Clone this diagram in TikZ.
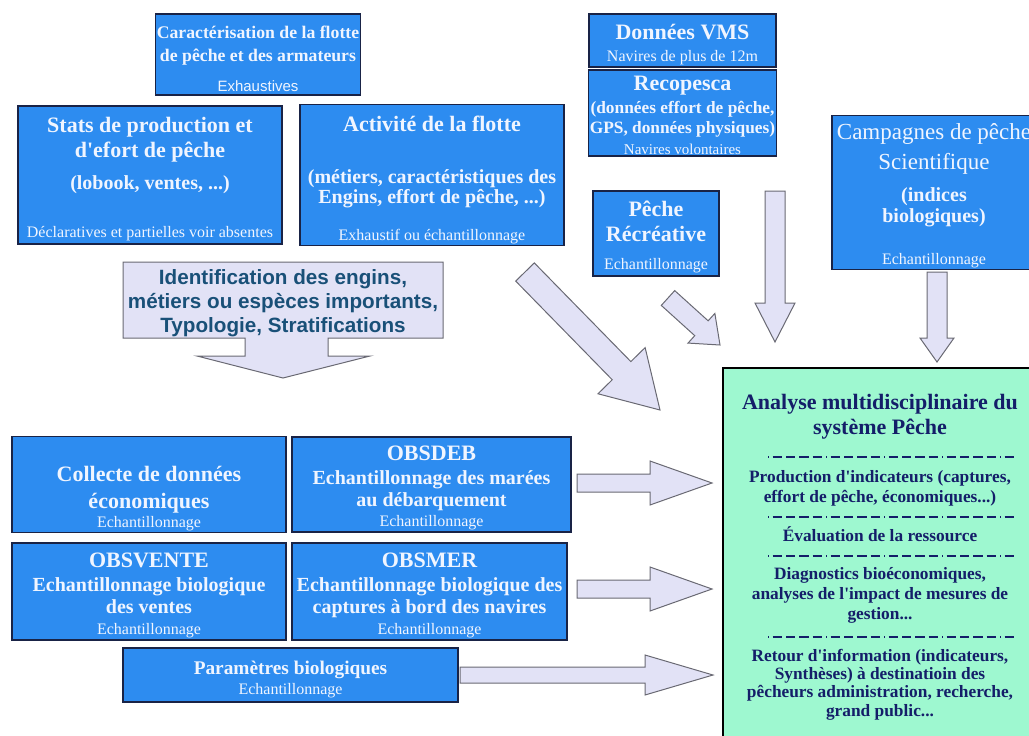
\documentclass[tikz,border=0pt]{standalone}
\usepackage{fontspec}
\defaultfontfeatures[\rmfamily,\sffamily]{}
\setmainfont{Liberation Serif}
\setsansfont{Liberation Sans}
\usetikzlibrary{calc}

\definecolor{bleubloc}{RGB}{45,140,240}
\definecolor{bordbloc}{RGB}{25,35,70}
\definecolor{texteclair}{RGB}{240,245,255}
\definecolor{lavande}{RGB}{226,226,246}
\definecolor{grisfleche}{RGB}{105,105,115}
\definecolor{vertanalyse}{RGB}{158,248,208}
\definecolor{marine}{RGB}{20,30,105}
\definecolor{bleuident}{RGB}{25,80,120}

\tikzset{
  bloc/.style={draw=bordbloc, line width=0.9pt, fill=bleubloc, text=texteclair, align=center, inner sep=1pt},
  fleche/.style={draw=grisfleche, line width=0.75pt, fill=lavande, line join=miter},
  separ/.style={draw=marine, line width=0.8pt, dash pattern={on 1pt off 2.5pt on 7pt off 3pt on 7pt off 3pt on 7pt off 3pt on 7pt off 3pt}},
  txtanalyse/.style={text=marine, align=center, inner sep=0pt},
}

% queue, pointe, demi-largeur, demi-tete, longueur tete
\newcommand{\grossefleche}[5]{%
  \coordinate (basetete) at ($(#2)!#5!(#1)$);
  \draw[fleche] ($(#1)!#3!90:(#2)$) -- ($(basetete)!#3!90:(#2)$) -- ($(basetete)!#4!90:(#2)$) -- (#2)
    -- ($(basetete)!#4!-90:(#2)$) -- ($(basetete)!#3!-90:(#2)$) -- ($(#1)!#3!-90:(#2)$) -- cycle;}

\newcommand{\petitetxt}{\mdseries\fontsize{12}{12}\selectfont}
\newcommand{\hausse}[1]{\rule{0pt}{#1}}

\begin{document}
\begin{tikzpicture}[x=0.75pt,y=0.75pt,yscale=-1,xscale=1]
\useasboundingbox (0,0) rectangle (1029,736);

% sources
\node[bloc, minimum width=150pt, minimum height=60.75pt, font=\fontsize{13.3}{17.25}\selectfont\bfseries] (caract) at (258,54.5)
  {\hausse{16pt}Caractérisation de la flotte\\ de pêche et des armateurs\\[5.25pt] \sffamily\mdseries\fontsize{11.25}{11.25}\selectfont Exhaustives};
\node[bloc, minimum width=198pt, minimum height=103.5pt, font=\fontsize{16.5}{18.75}\selectfont\bfseries] (stats) at (150,175)
  {\hausse{18pt}Stats de production et\\ d'efort de pêche\\[5.25pt] \fontsize{15}{15}\selectfont (lobook, ventes, ...)\\[17.25pt] \petitetxt Déclaratives et partielles voir absentes};
\node[bloc, minimum width=198pt, minimum height=103.5pt, font=\fontsize{15}{15}\selectfont\bfseries] (activite) at (432,175)
  {\fontsize{16.5}{16.5}\selectfont\hausse{19pt}Activité de la flotte\\[24pt] (métiers, caractéristiques des\\ Engins, effort de pêche, ...)\\[12.75pt] \petitetxt Exhaustif ou échantillonnage};
\node[bloc, minimum width=140.25pt, minimum height=39.75pt, font=\fontsize{16.5}{16.5}\selectfont\bfseries] (vms) at (682.5,40.5)
  {\hausse{18pt}Données VMS\\ \petitetxt Navires de plus de 12m};
\node[bloc, minimum width=140.25pt, minimum height=64.5pt, font=\fontsize{13}{15}\selectfont\bfseries] (recopesca) at (682.5,113)
  {\fontsize{16.5}{16.5}\selectfont\hausse{14pt}Recopesca\\[2.25pt] (données effort de pêche,\\ GPS, données physiques)\\[0.75pt] \mdseries\fontsize{11.25}{11.25}\selectfont Navires volontaires};
\node[bloc, minimum width=94.5pt, minimum height=63.75pt, font=\fontsize{16.5}{18.75}\selectfont\bfseries] (recreative) at (656,233.5)
  {\hausse{17pt}Pêche\\ Récréative\\[2.25pt] \petitetxt Echantillonnage};
\node[bloc, minimum width=153pt, minimum height=113.25pt, font=\fontsize{15}{15.75}\selectfont\bfseries] (campagnes) at (934,192.5)
  {\mdseries\fontsize{17.25}{17.25}\selectfont\hausse{16.5pt}Campagnes de pêche\\[6pt] \mdseries\fontsize{17.25}{17.25}\selectfont Scientifique\\[8.25pt] (indices\\ biologiques)\\[15.75pt] \petitetxt Echantillonnage};

% typologie
\draw[fleche] (123,262) -- (443,262) -- (443,338) -- (328,338) -- (328,356) -- (370,356) -- (283,378)
  -- (197,356) -- (245,356) -- (245,338) -- (123,338) -- cycle;
\node[align=center, inner sep=0pt, text=bleuident, font=\sffamily\bfseries\fontsize{15.5}{18}\selectfont] (ident) at (283,303)
  {Identification des engins,\\ métiers ou espèces importants,\\ Typologie, Stratifications};

% echantillonnages
\node[bloc, minimum width=205.5pt, minimum height=71.25pt, font=\fontsize{16.5}{14.25}\selectfont\bfseries] (collecte) at (149,484.5)
  {\hausse{33pt}Collecte de données\\[6pt] économiques\\ \petitetxt Echantillonnage};
\node[bloc, minimum width=209.25pt, minimum height=71.25pt, font=\fontsize{15}{15}\selectfont\bfseries] (obsdeb) at (431.5,484.5)
  {\fontsize{16.5}{16.5}\selectfont\hausse{16.5pt}OBSDEB\\[3pt] Echantillonnage des marées\\[1.5pt] au débarquement\\ \petitetxt Echantillonnage};
\node[bloc, minimum width=205.5pt, minimum height=72.75pt, font=\fontsize{15}{15.75}\selectfont\bfseries] (obsvente) at (149,591.5)
  {\fontsize{16.5}{16.5}\selectfont\hausse{16.5pt}OBSVENTE\\[2.25pt] Echantillonnage biologique\\[0.75pt] des ventes\\ \petitetxt Echantillonnage};
\node[bloc, minimum width=206.25pt, minimum height=72.75pt, font=\fontsize{15}{15.75}\selectfont\bfseries] (obsmer) at (429.5,591.5)
  {\fontsize{16.5}{16.5}\selectfont\hausse{16.5pt}OBSMER\\[2.25pt] Echantillonnage biologique des\\[0.75pt] captures à bord des navires\\ \petitetxt Echantillonnage};
\node[bloc, minimum width=251.25pt, minimum height=40.5pt, font=\fontsize{14.5}{15}\selectfont\bfseries] (parametres) at (290.5,675)
  {\hausse{16.5pt}Paramètres biologiques\\ \petitetxt Echantillonnage};

% analyse
\node[draw=black, line width=0.9pt, fill=vertanalyse, minimum width=237.75pt, minimum height=282.75pt, inner sep=0pt] (analyse) at (881.5,556.5) {};
\node[txtanalyse, font=\fontsize{16.5}{18.75}\selectfont\bfseries] (titreanalyse) at (880,417)
  {Analyse multidisciplinaire du\\ système Pêche};
\draw[separ] (768,457) -- (1017,457);
\node[txtanalyse, font=\fontsize{13}{15}\selectfont\bfseries] (production) at (880,488)
  {Production d'indicateurs (captures,\\ effort de pêche, économiques...)};
\draw[separ] (768,517) -- (1017,517);
\node[txtanalyse, font=\fontsize{13}{15}\selectfont\bfseries] (evaluation) at (880,534.5)
  {Évaluation de la ressource};
\draw[separ] (768,556) -- (1017,556);
\node[txtanalyse, font=\fontsize{13}{15}\selectfont\bfseries] (diagnostic) at (880,595)
  {Diagnostics bioéconomiques,\\ analyses de l'impact de mesures de\\ gestion...};
\draw[separ] (768,637) -- (1017,637);
\node[txtanalyse, font=\fontsize{13}{13.75}\selectfont\bfseries] (retour) at (880,684.5)
  {Retour d'information (indicateurs,\\ Synthèses) à destinatioin des\\ pêcheurs administration, recherche,\\ grand public...};

% fleches
\coordinate (qactivite) at (525,272);   \coordinate (pactivite) at (660,410);
\coordinate (qrecreative) at (668,298); \coordinate (precreative) at (720,345);
\coordinate (qrecopesca) at (775,191);  \coordinate (precopesca) at (775,342);
\coordinate (qcampagnes) at (937,272);  \coordinate (pcampagnes) at (937,362);
\coordinate (qobsdeb) at (577,483);     \coordinate (pobsdeb) at (712,483);
\coordinate (qobsmer) at (577,589);     \coordinate (pobsmer) at (712,589);
\coordinate (qparam) at (460,675);      \coordinate (pparam) at (713,675);
\grossefleche{qactivite}{pactivite}{9.75pt}{24.75pt}{41.25pt}
\grossefleche{qrecreative}{precreative}{7.5pt}{15pt}{18.75pt}
\grossefleche{qrecopesca}{precopesca}{7.5pt}{15pt}{29.25pt}
\grossefleche{qcampagnes}{pcampagnes}{7.5pt}{12.75pt}{18pt}
\grossefleche{qobsdeb}{pobsdeb}{6.75pt}{16.5pt}{46.5pt}
\grossefleche{qobsmer}{pobsmer}{6.75pt}{16.5pt}{46.5pt}
\grossefleche{qparam}{pparam}{6pt}{15pt}{51pt}
\end{tikzpicture}
\end{document}
